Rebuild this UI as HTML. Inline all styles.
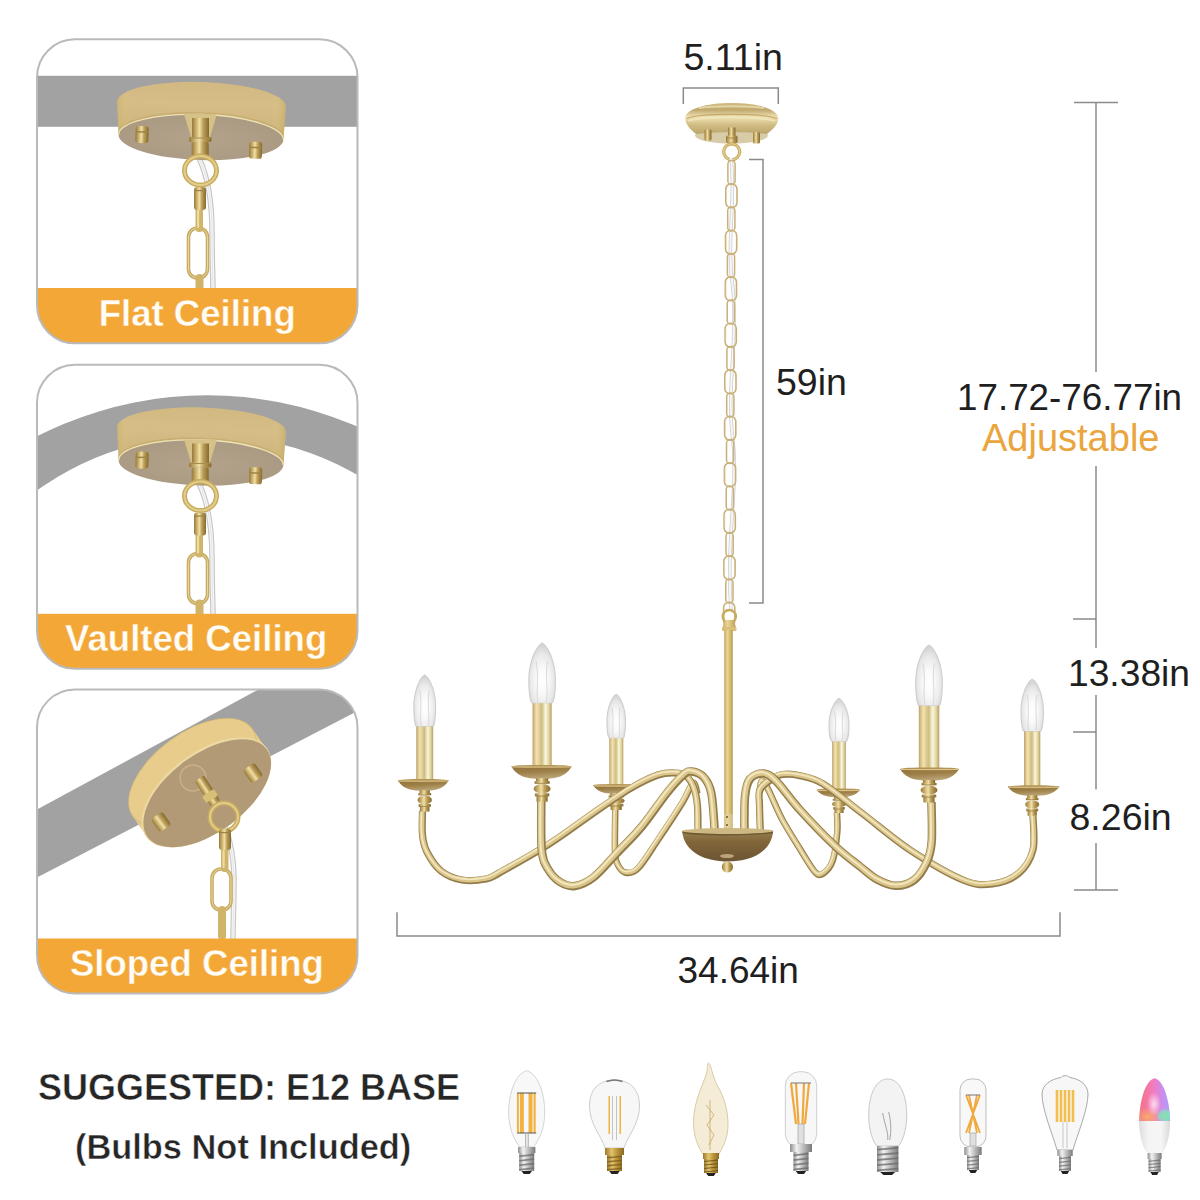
<!DOCTYPE html>
<html><head><meta charset="utf-8">
<style>
html,body{margin:0;padding:0;background:#fff;}
body{width:1200px;height:1200px;overflow:hidden;position:relative;}
svg{position:absolute;left:0;top:0;}
text{font-family:"Liberation Sans",sans-serif;}
</style></head>
<body>
<svg width="1200" height="1200" viewBox="0 0 1200 1200">
<defs>
  <clipPath id="p1"><rect x="37" y="39.3" width="320.5" height="304" rx="38"/></clipPath>
  <clipPath id="p2"><rect x="37" y="364.8" width="320.5" height="304" rx="38"/></clipPath>
  <clipPath id="p3"><rect x="37" y="689.5" width="320.5" height="304" rx="38"/></clipPath>
  <linearGradient id="gWall" x1="0" y1="0" x2="0" y2="1">
    <stop offset="0" stop-color="#d2b981"/><stop offset="0.4" stop-color="#d6bd88"/><stop offset="1" stop-color="#ccb37a"/>
  </linearGradient>
  <linearGradient id="gWallH" x1="0" y1="0" x2="1" y2="0">
    <stop offset="0" stop-color="#c9b06c" stop-opacity="0.6"/><stop offset="0.08" stop-color="#e0cb88" stop-opacity="0"/><stop offset="0.92" stop-color="#e0cb88" stop-opacity="0"/><stop offset="1" stop-color="#c2a862" stop-opacity="0.6"/>
  </linearGradient>
  <radialGradient id="gFace" cx="0.5" cy="0.55" r="0.6">
    <stop offset="0" stop-color="#b3a38b"/><stop offset="1" stop-color="#aa9982"/>
  </radialGradient>
  <linearGradient id="gBrass" x1="0" y1="0" x2="1" y2="0">
    <stop offset="0" stop-color="#96793a"/><stop offset="0.3" stop-color="#d6bd7c"/><stop offset="0.45" stop-color="#efe0a8"/><stop offset="0.65" stop-color="#bea05a"/><stop offset="1" stop-color="#846a30"/>
  </linearGradient>
  <linearGradient id="gSleeve" x1="0" y1="0" x2="1" y2="0">
    <stop offset="0" stop-color="#bca36a"/><stop offset="0.1" stop-color="#d9c08f"/><stop offset="0.22" stop-color="#f4e3ae"/><stop offset="0.48" stop-color="#cdbd7e"/><stop offset="0.68" stop-color="#faf5de"/><stop offset="0.85" stop-color="#e3d59e"/><stop offset="1" stop-color="#b89f66"/>
  </linearGradient>
  <linearGradient id="gCup" x1="0" y1="0" x2="0.3" y2="1">
    <stop offset="0" stop-color="#8f7038"/><stop offset="0.5" stop-color="#9d7f48"/><stop offset="1" stop-color="#b9a274"/>
  </linearGradient>
  <linearGradient id="gBowl" x1="0" y1="0" x2="0" y2="1">
    <stop offset="0" stop-color="#958050"/><stop offset="0.35" stop-color="#826639"/><stop offset="1" stop-color="#6c5534"/>
  </linearGradient>
  <radialGradient id="gBulb" cx="0.5" cy="0.62" r="0.58">
    <stop offset="0" stop-color="#ffffff"/><stop offset="0.35" stop-color="#fafafa"/><stop offset="0.75" stop-color="#e9e9e9"/><stop offset="1" stop-color="#d4d4d4"/>
  </radialGradient>
  <linearGradient id="gCan" x1="0" y1="0" x2="0" y2="1">
    <stop offset="0" stop-color="#d3bc82"/><stop offset="0.22" stop-color="#c0a86f"/><stop offset="0.45" stop-color="#f1e2b6"/><stop offset="0.7" stop-color="#d2bd84"/><stop offset="1" stop-color="#bba56c"/>
  </linearGradient>
  <linearGradient id="gRod" x1="0" y1="0" x2="1" y2="0">
    <stop offset="0" stop-color="#c2a659"/><stop offset="0.35" stop-color="#e8d596"/><stop offset="0.7" stop-color="#d4ba70"/><stop offset="1" stop-color="#b79b50"/>
  </linearGradient>
  <linearGradient id="gSilver" x1="0" y1="0" x2="1" y2="0">
    <stop offset="0" stop-color="#8d8d8d"/><stop offset="0.3" stop-color="#f2f2f2"/><stop offset="0.6" stop-color="#bdbdbd"/><stop offset="1" stop-color="#7a7a7a"/>
  </linearGradient>
  <linearGradient id="gGold2" x1="0" y1="0" x2="1" y2="0">
    <stop offset="0" stop-color="#9c7a2c"/><stop offset="0.35" stop-color="#e2c46e"/><stop offset="0.6" stop-color="#c19a40"/><stop offset="1" stop-color="#8a6a22"/>
  </linearGradient>
  <linearGradient id="gRGB" x1="0" y1="0" x2="1" y2="0">
    <stop offset="0" stop-color="#f2866a"/><stop offset="0.45" stop-color="#f47f9c"/><stop offset="0.75" stop-color="#c48fe8"/><stop offset="1" stop-color="#9fb6f0"/>
  </linearGradient>
</defs>
<rect width="1200" height="1200" fill="#fff"/>

<!-- PANEL BACKGROUNDS -->
<g clip-path="url(#p1)">
  <rect x="37" y="75.8" width="321" height="51" fill="#a3a2a3"/>
</g>
<g clip-path="url(#p2)">
  <circle cx="207.4" cy="769.3" r="374" fill="#a3a2a3"/>
  <circle cx="209.1" cy="731.5" r="296.3" fill="#fff"/>
</g>
<g clip-path="url(#p3)">
  <polygon points="0,829.6 300,667 420,678.5 0,896.8" fill="#a3a2a3"/>
</g>

<!-- PANEL CANOPY (flat) -->
<g id="pcan">
  <!-- cord -->
  <path d="M199,158 C207,175 212,198 212,232 C212,262 213,276 213,292" stroke="#c6c6c6" stroke-width="5.5" fill="none"/>
  <path d="M199,158 C207,175 212,198 212,232 C212,262 213,276 213,292" stroke="#f6f6f6" stroke-width="3.2" fill="none"/>
  <path d="M199,158 C207,175 212,198 212,232 C212,262 213,276 213,292" stroke="#d9d9d9" stroke-width="0.6" fill="none"/>
  <!-- chain face link -->
  <rect x="188.5" y="228" width="19" height="50" rx="9" fill="none" stroke="#c7ab62" stroke-width="3.6"/>
  <rect x="188.5" y="228" width="19" height="50" rx="9" fill="none" stroke="#e8d69c" stroke-width="1"/>
  <!-- clasp + edge link -->
  <rect x="195.5" y="205" width="7.5" height="27" rx="3.5" fill="#cfb46a"/>
  <rect x="197" y="209" width="2.2" height="19" rx="1" fill="#ecdca4"/>
  <rect x="194" y="187" width="12" height="23" rx="3" fill="url(#gBrass)"/>
  <rect x="194" y="190" width="12" height="1.2" fill="#9c8242"/>
  <rect x="195.5" y="274" width="8" height="20" rx="4" fill="#cfb46a"/>
  <g transform="rotate(1.8 201 121)">
  <!-- wall -->
  <path d="M116.7,104 A84.3,22 0 0 1 285.3,104 L284,137 A82.5,23 0 0 0 119,137 Z" fill="url(#gWall)"/>
  <path d="M116.7,104 A84.3,22 0 0 1 285.3,104 L284,137 A82.5,23 0 0 0 119,137 Z" fill="url(#gWallH)"/>
  <!-- face -->
  <ellipse cx="201.5" cy="137" rx="82.5" ry="23" fill="url(#gFace)"/>
  <path d="M119,136 A82.5,23 0 0 1 284,136" stroke="#c2a866" stroke-width="1.6" fill="none" opacity="0.7"/>
  <path d="M119,137.5 A82.5,23 0 0 1 284,137.5" stroke="#efe2b2" stroke-width="1.4" fill="none"/>
  <!-- screws -->
  <rect x="136" y="128" width="13" height="17" rx="3" fill="url(#gBrass)"/>
  <rect x="136" y="133" width="13" height="1.5" fill="#9e8444"/>
  <rect x="250" y="140" width="13" height="17" rx="3" fill="url(#gBrass)"/>
  <rect x="250" y="145" width="13" height="1.5" fill="#9e8444"/>
  </g>
  <!-- stem -->
  <path d="M184,114 L217,114 L210,137 L191,137 Z" fill="#d6c188"/>
  <rect x="192" y="118" width="17" height="20" fill="url(#gBrass)"/>
  <rect x="189" y="137" width="22.5" height="5" rx="1.5" fill="url(#gBrass)"/><rect x="189" y="137.5" width="22.5" height="1" fill="#a88c48"/>
  <rect x="191.7" y="142" width="17" height="16" rx="2" fill="url(#gBrass)"/>
  <!-- ring -->
  <ellipse cx="200.5" cy="170.5" rx="16" ry="14.5" fill="none" stroke="#c8ab5f" stroke-width="5"/>
  <ellipse cx="200.5" cy="170.5" rx="16" ry="14.5" fill="none" stroke="#e2cd8a" stroke-width="2"/>
</g>
<use href="#pcan" transform="translate(0,325.5)"/>

<!-- PANEL 3 sloped canopy -->
<g id="pcan3">
<path d="M217,808 C226,825 234,850 234,880 C234,905 233,920 233,940" stroke="#c6c6c6" stroke-width="5.5" fill="none"/>
<path d="M217,808 C226,825 234,850 234,880 C234,905 233,920 233,940" stroke="#f6f6f6" stroke-width="3.2" fill="none"/>
<path d="M217,808 C226,825 234,850 234,880 C234,905 233,920 233,940" stroke="#d9d9d9" stroke-width="0.6" fill="none"/>
<rect x="212" y="869" width="19" height="41" rx="9" fill="none" stroke="#c7ab62" stroke-width="3.6"/>
<rect x="212" y="869" width="19" height="41" rx="9" fill="none" stroke="#e8d69c" stroke-width="1"/>
<rect x="218" y="906" width="8" height="34" rx="4" fill="#cfb46a"/>
<ellipse cx="192.40" cy="772.40" rx="74" ry="39" transform="rotate(-36.5 192.40 772.40)" fill="#e8cc8c"/>
<ellipse cx="193.40" cy="773.83" rx="74" ry="39" transform="rotate(-36.5 193.40 773.83)" fill="#e8cc8c"/>
<ellipse cx="194.40" cy="775.26" rx="74" ry="39" transform="rotate(-36.5 194.40 775.26)" fill="#e8cc8c"/>
<ellipse cx="195.40" cy="776.69" rx="74" ry="39" transform="rotate(-36.5 195.40 776.69)" fill="#e8cc8c"/>
<ellipse cx="196.40" cy="778.11" rx="74" ry="39" transform="rotate(-36.5 196.40 778.11)" fill="#e8cc8c"/>
<ellipse cx="197.40" cy="779.54" rx="74" ry="39" transform="rotate(-36.5 197.40 779.54)" fill="#e8cc8c"/>
<ellipse cx="198.40" cy="780.97" rx="74" ry="39" transform="rotate(-36.5 198.40 780.97)" fill="#e8cc8c"/>
<ellipse cx="199.40" cy="782.40" rx="74" ry="39" transform="rotate(-36.5 199.40 782.40)" fill="#e8cc8c"/>
<ellipse cx="200.40" cy="783.83" rx="74" ry="39" transform="rotate(-36.5 200.40 783.83)" fill="#e8cc8c"/>
<ellipse cx="201.40" cy="785.26" rx="74" ry="39" transform="rotate(-36.5 201.40 785.26)" fill="#e8cc8c"/>
<ellipse cx="202.40" cy="786.69" rx="74" ry="39" transform="rotate(-36.5 202.40 786.69)" fill="#e8cc8c"/>
<ellipse cx="203.40" cy="788.11" rx="74" ry="39" transform="rotate(-36.5 203.40 788.11)" fill="#e8cc8c"/>
<ellipse cx="204.40" cy="789.54" rx="74" ry="39" transform="rotate(-36.5 204.40 789.54)" fill="#e8cc8c"/>
<ellipse cx="205.40" cy="790.97" rx="74" ry="39" transform="rotate(-36.5 205.40 790.97)" fill="#e8cc8c"/>
<ellipse cx="206.40" cy="792.40" rx="74" ry="39" transform="rotate(-36.5 206.40 792.40)" fill="#e8cc8c"/>
<ellipse cx="192.40" cy="772.40" rx="74" ry="39" transform="rotate(-36.5 192.40 772.40)" fill="none" stroke="#cfb46c" stroke-width="1" opacity="0.6"/>
<ellipse cx="206.4" cy="792.4" rx="75" ry="40" transform="rotate(-36.5 206.4 792.4)" fill="#eddaa3"/>
<ellipse cx="207.20000000000002" cy="793.1999999999999" rx="74" ry="39" transform="rotate(-36.5 207.20000000000002 793.1999999999999)" fill="#b29a77"/>
<circle cx="193" cy="778" r="13" fill="#b49c79" stroke="#c9b185" stroke-width="1.5"/>
<rect x="154" y="814" width="14" height="16" rx="3" fill="url(#gBrass)" transform="rotate(-36 161 822)"/>
<rect x="246" y="765" width="14" height="16" rx="3" fill="url(#gBrass)" transform="rotate(-36 253 773)"/>
<rect x="202" y="776" width="11" height="30" rx="2" fill="url(#gBrass)" transform="rotate(-33 207.5 791)"/>
<rect x="203" y="792" width="14" height="8" rx="2" fill="#d8bf76" transform="rotate(-33 210 796)"/>
<circle cx="224" cy="817" r="14" fill="none" stroke="#c8ab5f" stroke-width="5"/>
<circle cx="224" cy="817" r="14" fill="none" stroke="#e2cd8a" stroke-width="2"/>
<rect x="221" y="846" width="7.5" height="26" rx="3.5" fill="#cfb46a"/>
<rect x="222.5" y="850" width="2.2" height="18" rx="1" fill="#ecdca4"/>
<rect x="219" y="829" width="12" height="21" rx="3" fill="url(#gBrass)"/>
<rect x="219" y="832" width="12" height="1.2" fill="#9c8242"/>
</g>

<!-- ORANGE BANDS -->
<g clip-path="url(#p1)"><rect x="37" y="288" width="321" height="56" fill="#f3a736"/></g>
<g clip-path="url(#p2)"><rect x="37" y="613.8" width="321" height="56" fill="#f3a736"/></g>
<g clip-path="url(#p3)"><rect x="37" y="938.5" width="321" height="56" fill="#f3a736"/></g>
<rect x="37" y="39.3" width="320.5" height="304" rx="38" fill="none" stroke="#bababa" stroke-width="2"/>
<rect x="37" y="364.8" width="320.5" height="304" rx="38" fill="none" stroke="#bababa" stroke-width="2"/>
<rect x="37" y="689.5" width="320.5" height="304" rx="38" fill="none" stroke="#bababa" stroke-width="2"/>
<g font-weight="bold" fill="#fffdf6" font-size="36.6" text-anchor="middle" stroke="#f3a736" stroke-width="0.4">
  <text x="197.2" y="325.8">Flat Ceiling</text>
  <text x="196.2" y="651.3">Vaulted Ceiling</text>
  <text x="196.9" y="976.3">Sloped Ceiling</text>
</g>

<g id="chcan">
<ellipse cx="731.5" cy="135.5" rx="36.5" ry="8" fill="#d8cca8"/>
<path d="M685.3,118 C685.5,109 706,103 731.5,103 C757,103 778,109 778.3,118 C778.3,125 772,130 767,134 C750,131.5 713,131.5 696,134 C691,130 685.3,125 685.3,118 Z" fill="url(#gCan)"/>
<path d="M686.5,118.5 C700,113 763,113 777,118.5" stroke="#bea35c" stroke-width="1.3" fill="none" opacity="0.8"/>
<path d="M688,121 C705,116 758,116 775,121" stroke="#f1e6bd" stroke-width="1.8" fill="none" opacity="0.9"/>
<path d="M699,108 C712,105.5 751,105.5 764,108" stroke="#f0e4b6" stroke-width="2" fill="none" opacity="0.7"/>
<rect x="704.5" y="129.5" width="7" height="11" rx="1.5" fill="url(#gBrass)"/>
<rect x="753" y="132" width="7" height="11.5" rx="1.5" fill="url(#gBrass)"/>
<rect x="728" y="127.5" width="7.5" height="9" fill="url(#gBrass)"/>
<rect x="726" y="135.5" width="11.5" height="7.5" rx="1.5" fill="url(#gBrass)"/>
<path d="M726,138 H737.5" stroke="#9d8241" stroke-width="0.8"/>
<circle cx="731.7" cy="151.8" r="8" fill="none" stroke="#c6a95e" stroke-width="3.2"/>
<circle cx="731.7" cy="151.8" r="8" fill="none" stroke="#e6d394" stroke-width="1.1"/>
</g>
<g>
<path d="M731,158 C736,200 726,240 733,290 C738,340 726,390 733,440 C738,490 726,540 731,610" stroke="#cfcfcf" stroke-width="3.6" fill="none"/>
<path d="M731,158 C736,200 726,240 733,290 C738,340 726,390 733,440 C738,490 726,540 731,610" stroke="#f6f6f6" stroke-width="2" fill="none"/>
<rect x="727.9" y="160.5" width="7.2" height="24" rx="3.6" fill="none" stroke="#c9b078" stroke-width="1.5"/>
<rect x="725.8" y="183.8" width="11.2" height="24" rx="5.4" fill="none" stroke="#c9b078" stroke-width="1.6"/>
<path d="M726.6,189.8 V201.8" stroke="#e9dcb0" stroke-width="0.7"/>
<rect x="727.7" y="207.0" width="7.2" height="24" rx="3.6" fill="none" stroke="#c9b078" stroke-width="1.5"/>
<rect x="725.5" y="230.2" width="11.2" height="24" rx="5.4" fill="none" stroke="#c9b078" stroke-width="1.6"/>
<path d="M726.3,236.2 V248.2" stroke="#e9dcb0" stroke-width="0.7"/>
<rect x="727.4" y="253.5" width="7.2" height="24" rx="3.6" fill="none" stroke="#c9b078" stroke-width="1.5"/>
<rect x="725.3" y="276.8" width="11.2" height="24" rx="5.4" fill="none" stroke="#c9b078" stroke-width="1.6"/>
<path d="M726.1,282.8 V294.8" stroke="#e9dcb0" stroke-width="0.7"/>
<rect x="727.2" y="300.0" width="7.2" height="24" rx="3.6" fill="none" stroke="#c9b078" stroke-width="1.5"/>
<rect x="725.1" y="323.2" width="11.2" height="24" rx="5.4" fill="none" stroke="#c9b078" stroke-width="1.6"/>
<path d="M725.9,329.2 V341.2" stroke="#e9dcb0" stroke-width="0.7"/>
<rect x="726.9" y="346.5" width="7.2" height="24" rx="3.6" fill="none" stroke="#c9b078" stroke-width="1.5"/>
<rect x="724.8" y="369.8" width="11.2" height="24" rx="5.4" fill="none" stroke="#c9b078" stroke-width="1.6"/>
<path d="M725.6,375.8 V387.8" stroke="#e9dcb0" stroke-width="0.7"/>
<rect x="726.7" y="393.0" width="7.2" height="24" rx="3.6" fill="none" stroke="#c9b078" stroke-width="1.5"/>
<rect x="724.6" y="416.2" width="11.2" height="24" rx="5.4" fill="none" stroke="#c9b078" stroke-width="1.6"/>
<path d="M725.4,422.2 V434.2" stroke="#e9dcb0" stroke-width="0.7"/>
<rect x="726.5" y="439.5" width="7.2" height="24" rx="3.6" fill="none" stroke="#c9b078" stroke-width="1.5"/>
<rect x="724.4" y="462.8" width="11.2" height="24" rx="5.4" fill="none" stroke="#c9b078" stroke-width="1.6"/>
<path d="M725.2,468.8 V480.8" stroke="#e9dcb0" stroke-width="0.7"/>
<rect x="726.2" y="486.0" width="7.2" height="24" rx="3.6" fill="none" stroke="#c9b078" stroke-width="1.5"/>
<rect x="724.1" y="509.2" width="11.2" height="24" rx="5.4" fill="none" stroke="#c9b078" stroke-width="1.6"/>
<path d="M724.9,515.2 V527.2" stroke="#e9dcb0" stroke-width="0.7"/>
<rect x="726.0" y="532.5" width="7.2" height="24" rx="3.6" fill="none" stroke="#c9b078" stroke-width="1.5"/>
<rect x="723.9" y="555.8" width="11.2" height="24" rx="5.4" fill="none" stroke="#c9b078" stroke-width="1.6"/>
<path d="M724.7,561.8 V573.8" stroke="#e9dcb0" stroke-width="0.7"/>
<rect x="725.8" y="579.0" width="7.2" height="24" rx="3.6" fill="none" stroke="#c9b078" stroke-width="1.5"/>
<rect x="723.6" y="602.2" width="11.2" height="24" rx="5.4" fill="none" stroke="#c9b078" stroke-width="1.6"/>
<path d="M724.4,608.2 V620.2" stroke="#e9dcb0" stroke-width="0.7"/>
</g>
<circle cx="729.3" cy="616.5" r="6.5" fill="none" stroke="#c8ac60" stroke-width="2.6"/>
<path d="M724.5,620 L734,620 L736,628 L722.5,628 Z" fill="url(#gRod)"/>
<rect x="722" y="627" width="14.5" height="4" rx="1" fill="#d9c07a"/>
<rect x="724.2" y="630" width="8.6" height="202" fill="url(#gRod)"/>
<rect x="723.8" y="814" width="9.2" height="14" fill="#e2d6ae" opacity="0.5"/>
<circle cx="727" cy="817" r="0.9" fill="#5a4a20"/><circle cx="727" cy="825" r="0.9" fill="#5a4a20"/>
<path d="M615.3,810.0 C615.2,816.7 614.7,841.2 615.0,850.0 C615.3,858.8 615.3,859.2 617.0,863.0 C618.7,866.8 621.5,871.6 625.0,872.5 C628.5,873.4 632.5,873.9 638.0,868.5 C643.5,863.1 650.5,851.1 658.0,840.0 C665.5,828.9 677.2,811.2 683.0,801.7 C688.8,792.2 690.6,784.3 693.0,783.0 C695.4,781.7 696.8,792.2 697.5,794.0" fill="none" stroke="#937c4b" stroke-width="6.5"/>
<path d="M615.3,810.0 C615.2,816.7 614.7,841.2 615.0,850.0 C615.3,858.8 615.3,859.2 617.0,863.0 C618.7,866.8 621.5,871.6 625.0,872.5 C628.5,873.4 632.5,873.9 638.0,868.5 C643.5,863.1 650.5,851.1 658.0,840.0 C665.5,828.9 677.2,811.2 683.0,801.7 C688.8,792.2 690.6,784.3 693.0,783.0 C695.4,781.7 696.8,792.2 697.5,794.0" fill="none" stroke="#dac58a" stroke-width="4.55" transform="translate(-0.45,-0.65)"/>
<path d="M615.3,810.0 C615.2,816.7 614.7,841.2 615.0,850.0 C615.3,858.8 615.3,859.2 617.0,863.0 C618.7,866.8 621.5,871.6 625.0,872.5 C628.5,873.4 632.5,873.9 638.0,868.5 C643.5,863.1 650.5,851.1 658.0,840.0 C665.5,828.9 677.2,811.2 683.0,801.7 C688.8,792.2 690.6,784.3 693.0,783.0 C695.4,781.7 696.8,792.2 697.5,794.0" fill="none" stroke="#f6ecc8" stroke-width="1.56" transform="translate(-1.0,-1.3)" opacity="0.85"/>
<path d="M837.0,813.0 C837.0,816.2 838.0,824.2 837.3,832.0 C836.6,839.8 835.3,853.1 833.0,860.0 C830.7,866.9 826.3,871.5 823.3,873.5 C820.3,875.5 818.9,876.1 815.0,872.0 C811.1,867.9 805.4,857.7 800.0,849.0 C794.6,840.3 787.8,829.8 782.5,820.0 C777.2,810.2 771.9,796.5 768.5,790.0 C765.1,783.5 763.5,780.7 762.0,781.0 C760.5,781.3 759.9,790.2 759.5,792.0" fill="none" stroke="#937c4b" stroke-width="6.5"/>
<path d="M837.0,813.0 C837.0,816.2 838.0,824.2 837.3,832.0 C836.6,839.8 835.3,853.1 833.0,860.0 C830.7,866.9 826.3,871.5 823.3,873.5 C820.3,875.5 818.9,876.1 815.0,872.0 C811.1,867.9 805.4,857.7 800.0,849.0 C794.6,840.3 787.8,829.8 782.5,820.0 C777.2,810.2 771.9,796.5 768.5,790.0 C765.1,783.5 763.5,780.7 762.0,781.0 C760.5,781.3 759.9,790.2 759.5,792.0" fill="none" stroke="#dac58a" stroke-width="4.55" transform="translate(-0.45,-0.65)"/>
<path d="M837.0,813.0 C837.0,816.2 838.0,824.2 837.3,832.0 C836.6,839.8 835.3,853.1 833.0,860.0 C830.7,866.9 826.3,871.5 823.3,873.5 C820.3,875.5 818.9,876.1 815.0,872.0 C811.1,867.9 805.4,857.7 800.0,849.0 C794.6,840.3 787.8,829.8 782.5,820.0 C777.2,810.2 771.9,796.5 768.5,790.0 C765.1,783.5 763.5,780.7 762.0,781.0 C760.5,781.3 759.9,790.2 759.5,792.0" fill="none" stroke="#f6ecc8" stroke-width="1.56" transform="translate(-1.0,-1.3)" opacity="0.85"/>
<path d="M616.2,694.2 C619.0,695.1 625.5,705.7 625.5,721.5 C625.5,732.1 624.1,738.3 623.2,738.3 L609.2,738.3 C608.3,738.3 606.9,732.1 606.9,721.5 C606.9,705.7 613.4,695.1 616.2,694.2 Z" fill="url(#gBulb)" stroke="#cbcbcb" stroke-width="1"/>
<path d="M612.0,707.4 C614.3,720.7 611.6,729.5 613.4,737.3 M619.9,707.4 C618.1,720.7 620.9,729.5 619.0,737.3" stroke="#d2d2d2" stroke-width="0.8" fill="none"/>
<rect x="609.2" y="738.3" width="14.1" height="47.2" fill="url(#gSleeve)"/>
<path d="M593.0,785.5 C598.5,793.3 606.8,793.8 616.0,793.8 C625.2,793.8 633.5,793.3 639.0,785.5 Z" fill="url(#gCup)"/>
<ellipse cx="616.0" cy="785.5" rx="23.0" ry="1.6" fill="#b39452"/>
<path d="M594.0,786.0 L638.0,786.0" stroke="#d9c48e" stroke-width="1"/>
<rect x="610.1" y="793.3" width="12.2" height="2.3" fill="url(#gBrass)"/>
<rect x="608.6" y="795.3" width="15.3" height="1.7" rx="1" fill="url(#gBrass)"/>
<ellipse cx="616.2" cy="800.8" rx="8.5" ry="3.3" fill="url(#gBrass)"/>
<rect x="608.9" y="804.0" width="14.6" height="2.0" rx="1" fill="url(#gBrass)"/>
<rect x="610.6" y="806.0" width="11.2" height="4.0" fill="url(#gBrass)"/>
<path d="M608.6,797.0 H623.9 M608.9,806.0 H623.5" stroke="#8c7034" stroke-width="0.7"/>
<path d="M839.0,698.3 C842.0,699.2 849.0,709.6 849.0,725.2 C849.0,735.6 847.5,741.7 845.9,741.7 L832.1,741.7 C830.5,741.7 829.0,735.6 829.0,725.2 C829.0,709.6 836.0,699.2 839.0,698.3 Z" fill="url(#gBulb)" stroke="#cbcbcb" stroke-width="1"/>
<path d="M834.5,711.3 C837.0,724.3 834.0,733.0 836.0,740.7 M843.0,711.3 C841.0,724.3 844.0,733.0 842.0,740.7" stroke="#d2d2d2" stroke-width="0.8" fill="none"/>
<rect x="832.1" y="741.7" width="13.8" height="48.3" fill="url(#gSleeve)"/>
<path d="M816.7,790.0 C821.9,796.7 829.7,797.2 838.4,797.2 C847.0,797.2 854.8,796.7 860.0,790.0 Z" fill="url(#gCup)"/>
<ellipse cx="838.4" cy="790.0" rx="21.6" ry="1.6" fill="#b39452"/>
<path d="M817.7,790.5 L859.0,790.5" stroke="#d9c48e" stroke-width="1"/>
<rect x="834.0" y="796.7" width="10.1" height="2.3" fill="url(#gBrass)"/>
<rect x="832.7" y="798.7" width="12.6" height="1.6" rx="1" fill="url(#gBrass)"/>
<ellipse cx="839.0" cy="804.0" rx="7.0" ry="3.3" fill="url(#gBrass)"/>
<rect x="833.0" y="807.1" width="12.0" height="2.0" rx="1" fill="url(#gBrass)"/>
<rect x="834.4" y="809.1" width="9.2" height="3.9" fill="url(#gBrass)"/>
<path d="M832.7,800.3 H845.3 M833.0,809.1 H845.0" stroke="#8c7034" stroke-width="0.7"/>
<path d="M422.5,811.0 C422.5,815.0 421.8,828.2 422.5,835.0 C423.2,841.8 423.9,846.0 427.0,852.0 C430.1,858.0 435.2,866.3 441.0,871.0 C446.8,875.7 454.5,878.7 462.0,880.0 C469.5,881.3 479.7,880.2 486.0,879.0 C492.3,877.8 489.3,878.4 500.0,872.5 C510.7,866.6 533.3,854.2 550.0,843.5 C566.7,832.8 586.2,817.9 600.0,808.5 C613.8,799.1 623.3,792.6 633.0,787.0 C642.7,781.4 651.0,777.3 658.0,775.0 C665.0,772.7 670.3,772.8 675.0,773.0 C679.7,773.2 682.8,773.5 686.0,776.0 C689.2,778.5 692.1,783.0 694.0,788.0 C695.9,793.0 696.8,798.3 697.5,806.0 C698.2,813.7 697.9,829.3 698.0,834.0" fill="none" stroke="#937c4b" stroke-width="7.2"/>
<path d="M422.5,811.0 C422.5,815.0 421.8,828.2 422.5,835.0 C423.2,841.8 423.9,846.0 427.0,852.0 C430.1,858.0 435.2,866.3 441.0,871.0 C446.8,875.7 454.5,878.7 462.0,880.0 C469.5,881.3 479.7,880.2 486.0,879.0 C492.3,877.8 489.3,878.4 500.0,872.5 C510.7,866.6 533.3,854.2 550.0,843.5 C566.7,832.8 586.2,817.9 600.0,808.5 C613.8,799.1 623.3,792.6 633.0,787.0 C642.7,781.4 651.0,777.3 658.0,775.0 C665.0,772.7 670.3,772.8 675.0,773.0 C679.7,773.2 682.8,773.5 686.0,776.0 C689.2,778.5 692.1,783.0 694.0,788.0 C695.9,793.0 696.8,798.3 697.5,806.0 C698.2,813.7 697.9,829.3 698.0,834.0" fill="none" stroke="#dac58a" stroke-width="5.04" transform="translate(-0.45,-0.65)"/>
<path d="M422.5,811.0 C422.5,815.0 421.8,828.2 422.5,835.0 C423.2,841.8 423.9,846.0 427.0,852.0 C430.1,858.0 435.2,866.3 441.0,871.0 C446.8,875.7 454.5,878.7 462.0,880.0 C469.5,881.3 479.7,880.2 486.0,879.0 C492.3,877.8 489.3,878.4 500.0,872.5 C510.7,866.6 533.3,854.2 550.0,843.5 C566.7,832.8 586.2,817.9 600.0,808.5 C613.8,799.1 623.3,792.6 633.0,787.0 C642.7,781.4 651.0,777.3 658.0,775.0 C665.0,772.7 670.3,772.8 675.0,773.0 C679.7,773.2 682.8,773.5 686.0,776.0 C689.2,778.5 692.1,783.0 694.0,788.0 C695.9,793.0 696.8,798.3 697.5,806.0 C698.2,813.7 697.9,829.3 698.0,834.0" fill="none" stroke="#f6ecc8" stroke-width="1.73" transform="translate(-1.0,-1.3)" opacity="0.85"/>
<path d="M1033.0,816.0 C1033.0,821.7 1035.4,840.4 1033.0,850.0 C1030.6,859.6 1025.4,867.8 1018.6,873.5 C1011.8,879.2 1001.7,882.9 992.4,884.0 C983.1,885.1 976.7,885.7 963.0,880.0 C949.3,874.3 926.7,861.0 910.0,850.0 C893.3,839.0 877.5,825.0 863.0,814.0 C848.5,803.0 833.8,790.4 823.3,784.0 C812.8,777.6 806.8,777.3 800.0,775.7 C793.2,774.1 787.4,773.8 782.5,774.5 C777.6,775.2 774.5,777.2 770.8,779.8 C767.0,782.4 761.9,785.8 760.0,790.0 C758.1,794.2 759.4,797.7 759.5,805.0 C759.6,812.3 760.3,829.2 760.5,834.0" fill="none" stroke="#937c4b" stroke-width="7.2"/>
<path d="M1033.0,816.0 C1033.0,821.7 1035.4,840.4 1033.0,850.0 C1030.6,859.6 1025.4,867.8 1018.6,873.5 C1011.8,879.2 1001.7,882.9 992.4,884.0 C983.1,885.1 976.7,885.7 963.0,880.0 C949.3,874.3 926.7,861.0 910.0,850.0 C893.3,839.0 877.5,825.0 863.0,814.0 C848.5,803.0 833.8,790.4 823.3,784.0 C812.8,777.6 806.8,777.3 800.0,775.7 C793.2,774.1 787.4,773.8 782.5,774.5 C777.6,775.2 774.5,777.2 770.8,779.8 C767.0,782.4 761.9,785.8 760.0,790.0 C758.1,794.2 759.4,797.7 759.5,805.0 C759.6,812.3 760.3,829.2 760.5,834.0" fill="none" stroke="#dac58a" stroke-width="5.04" transform="translate(-0.45,-0.65)"/>
<path d="M1033.0,816.0 C1033.0,821.7 1035.4,840.4 1033.0,850.0 C1030.6,859.6 1025.4,867.8 1018.6,873.5 C1011.8,879.2 1001.7,882.9 992.4,884.0 C983.1,885.1 976.7,885.7 963.0,880.0 C949.3,874.3 926.7,861.0 910.0,850.0 C893.3,839.0 877.5,825.0 863.0,814.0 C848.5,803.0 833.8,790.4 823.3,784.0 C812.8,777.6 806.8,777.3 800.0,775.7 C793.2,774.1 787.4,773.8 782.5,774.5 C777.6,775.2 774.5,777.2 770.8,779.8 C767.0,782.4 761.9,785.8 760.0,790.0 C758.1,794.2 759.4,797.7 759.5,805.0 C759.6,812.3 760.3,829.2 760.5,834.0" fill="none" stroke="#f6ecc8" stroke-width="1.73" transform="translate(-1.0,-1.3)" opacity="0.85"/>
<path d="M541.3,801.0 C541.4,809.2 540.7,838.7 541.8,850.0 C542.9,861.3 545.0,863.7 548.0,869.0 C551.0,874.3 555.5,879.2 560.0,882.0 C564.5,884.8 569.3,886.8 575.0,886.0 C580.7,885.2 587.0,882.5 594.0,877.0 C601.0,871.5 608.8,861.7 616.7,853.3 C624.7,844.9 633.4,836.7 641.7,826.7 C650.0,816.7 659.8,801.9 666.7,793.3 C673.6,784.7 679.1,778.6 683.3,775.0 C687.5,771.4 688.2,771.1 691.7,771.5 C695.2,771.9 700.7,773.8 704.0,777.5 C707.3,781.2 709.7,784.6 711.5,794.0 C713.3,803.4 714.4,827.3 715.0,834.0" fill="none" stroke="#937c4b" stroke-width="8.5"/>
<path d="M541.3,801.0 C541.4,809.2 540.7,838.7 541.8,850.0 C542.9,861.3 545.0,863.7 548.0,869.0 C551.0,874.3 555.5,879.2 560.0,882.0 C564.5,884.8 569.3,886.8 575.0,886.0 C580.7,885.2 587.0,882.5 594.0,877.0 C601.0,871.5 608.8,861.7 616.7,853.3 C624.7,844.9 633.4,836.7 641.7,826.7 C650.0,816.7 659.8,801.9 666.7,793.3 C673.6,784.7 679.1,778.6 683.3,775.0 C687.5,771.4 688.2,771.1 691.7,771.5 C695.2,771.9 700.7,773.8 704.0,777.5 C707.3,781.2 709.7,784.6 711.5,794.0 C713.3,803.4 714.4,827.3 715.0,834.0" fill="none" stroke="#dac58a" stroke-width="5.95" transform="translate(-0.45,-0.65)"/>
<path d="M541.3,801.0 C541.4,809.2 540.7,838.7 541.8,850.0 C542.9,861.3 545.0,863.7 548.0,869.0 C551.0,874.3 555.5,879.2 560.0,882.0 C564.5,884.8 569.3,886.8 575.0,886.0 C580.7,885.2 587.0,882.5 594.0,877.0 C601.0,871.5 608.8,861.7 616.7,853.3 C624.7,844.9 633.4,836.7 641.7,826.7 C650.0,816.7 659.8,801.9 666.7,793.3 C673.6,784.7 679.1,778.6 683.3,775.0 C687.5,771.4 688.2,771.1 691.7,771.5 C695.2,771.9 700.7,773.8 704.0,777.5 C707.3,781.2 709.7,784.6 711.5,794.0 C713.3,803.4 714.4,827.3 715.0,834.0" fill="none" stroke="#f6ecc8" stroke-width="2.04" transform="translate(-1.0,-1.3)" opacity="0.85"/>
<path d="M931.5,802.0 C931.5,808.7 932.5,831.9 931.7,842.0 C930.9,852.1 929.6,856.2 926.7,862.5 C923.8,868.8 919.4,876.1 914.2,880.0 C909.1,883.9 902.0,885.9 895.8,885.8 C889.5,885.7 882.7,882.4 876.7,879.2 C870.7,876.0 867.0,872.0 860.0,866.5 C853.0,861.0 845.0,855.4 835.0,846.0 C825.0,836.6 809.7,820.7 800.0,810.0 C790.3,799.3 783.0,788.1 777.0,782.0 C771.0,775.9 768.3,774.0 763.8,773.5 C759.3,773.0 753.1,775.1 750.0,779.0 C746.9,782.9 745.9,787.8 745.0,797.0 C744.1,806.2 744.6,827.8 744.5,834.0" fill="none" stroke="#937c4b" stroke-width="8.5"/>
<path d="M931.5,802.0 C931.5,808.7 932.5,831.9 931.7,842.0 C930.9,852.1 929.6,856.2 926.7,862.5 C923.8,868.8 919.4,876.1 914.2,880.0 C909.1,883.9 902.0,885.9 895.8,885.8 C889.5,885.7 882.7,882.4 876.7,879.2 C870.7,876.0 867.0,872.0 860.0,866.5 C853.0,861.0 845.0,855.4 835.0,846.0 C825.0,836.6 809.7,820.7 800.0,810.0 C790.3,799.3 783.0,788.1 777.0,782.0 C771.0,775.9 768.3,774.0 763.8,773.5 C759.3,773.0 753.1,775.1 750.0,779.0 C746.9,782.9 745.9,787.8 745.0,797.0 C744.1,806.2 744.6,827.8 744.5,834.0" fill="none" stroke="#dac58a" stroke-width="5.95" transform="translate(-0.45,-0.65)"/>
<path d="M931.5,802.0 C931.5,808.7 932.5,831.9 931.7,842.0 C930.9,852.1 929.6,856.2 926.7,862.5 C923.8,868.8 919.4,876.1 914.2,880.0 C909.1,883.9 902.0,885.9 895.8,885.8 C889.5,885.7 882.7,882.4 876.7,879.2 C870.7,876.0 867.0,872.0 860.0,866.5 C853.0,861.0 845.0,855.4 835.0,846.0 C825.0,836.6 809.7,820.7 800.0,810.0 C790.3,799.3 783.0,788.1 777.0,782.0 C771.0,775.9 768.3,774.0 763.8,773.5 C759.3,773.0 753.1,775.1 750.0,779.0 C746.9,782.9 745.9,787.8 745.0,797.0 C744.1,806.2 744.6,827.8 744.5,834.0" fill="none" stroke="#f6ecc8" stroke-width="2.04" transform="translate(-1.0,-1.3)" opacity="0.85"/>
<path d="M424.7,674.9 C428.0,675.9 435.6,688.3 435.6,707.0 C435.6,719.4 434.0,726.6 433.2,726.6 L416.2,726.6 C415.4,726.6 413.8,719.4 413.8,707.0 C413.8,688.3 421.4,675.9 424.7,674.9 Z" fill="url(#gBulb)" stroke="#cbcbcb" stroke-width="1"/>
<path d="M419.8,690.4 C422.5,705.9 419.2,716.3 421.4,725.6 M429.1,690.4 C426.9,705.9 430.2,716.3 428.0,725.6" stroke="#d2d2d2" stroke-width="0.8" fill="none"/>
<rect x="416.2" y="726.6" width="17.0" height="54.0" fill="url(#gSleeve)"/>
<path d="M397.8,780.6 C403.9,790.3 413.1,790.8 423.3,790.8 C433.5,790.8 442.7,790.3 448.8,780.6 Z" fill="url(#gCup)"/>
<ellipse cx="423.3" cy="780.6" rx="25.5" ry="1.6" fill="#b39452"/>
<path d="M398.8,781.1 L447.8,781.1" stroke="#d9c48e" stroke-width="1"/>
<rect x="419.5" y="790.3" width="10.4" height="3.0" fill="url(#gBrass)"/>
<rect x="418.2" y="792.9" width="13.1" height="2.1" rx="1" fill="url(#gBrass)"/>
<ellipse cx="424.7" cy="799.9" rx="7.2" ry="4.3" fill="url(#gBrass)"/>
<rect x="418.5" y="803.9" width="12.5" height="2.6" rx="1" fill="url(#gBrass)"/>
<rect x="419.9" y="806.5" width="9.6" height="5.1" fill="url(#gBrass)"/>
<path d="M418.2,795.0 H431.2 M418.5,806.5 H430.9" stroke="#8c7034" stroke-width="0.7"/>
<path d="M542.1,643.0 C546.1,644.2 555.4,658.7 555.4,680.4 C555.4,694.9 553.4,703.3 551.7,703.3 L532.5,703.3 C530.8,703.3 528.8,694.9 528.8,680.4 C528.8,658.7 538.1,644.2 542.1,643.0 Z" fill="url(#gBulb)" stroke="#cbcbcb" stroke-width="1"/>
<path d="M536.1,661.1 C539.4,679.2 535.5,691.2 538.1,702.3 M547.4,661.1 C544.8,679.2 548.8,691.2 546.1,702.3" stroke="#d2d2d2" stroke-width="0.8" fill="none"/>
<rect x="532.5" y="703.3" width="19.2" height="63.2" fill="url(#gSleeve)"/>
<path d="M511.3,766.5 C518.5,778.3 529.4,778.8 541.5,778.8 C553.6,778.8 564.5,778.3 571.7,766.5 Z" fill="url(#gCup)"/>
<ellipse cx="541.5" cy="766.5" rx="30.2" ry="1.6" fill="#b39452"/>
<path d="M512.3,767.0 L570.7,767.0" stroke="#d9c48e" stroke-width="1"/>
<rect x="536.0" y="778.3" width="12.2" height="3.3" fill="url(#gBrass)"/>
<rect x="534.5" y="781.1" width="15.3" height="2.3" rx="1" fill="url(#gBrass)"/>
<ellipse cx="542.1" cy="788.8" rx="8.5" ry="4.7" fill="url(#gBrass)"/>
<rect x="534.8" y="793.3" width="14.6" height="2.8" rx="1" fill="url(#gBrass)"/>
<rect x="536.5" y="796.1" width="11.2" height="5.6" fill="url(#gBrass)"/>
<path d="M534.5,783.4 H549.8 M534.8,796.1 H549.4" stroke="#8c7034" stroke-width="0.7"/>
<path d="M929.0,645.0 C933.0,646.2 942.3,660.8 942.3,682.7 C942.3,697.3 940.3,705.8 939.2,705.8 L918.8,705.8 C917.7,705.8 915.7,697.3 915.7,682.7 C915.7,660.8 925.0,646.2 929.0,645.0 Z" fill="url(#gBulb)" stroke="#cbcbcb" stroke-width="1"/>
<path d="M923.0,663.2 C926.3,681.5 922.4,693.6 925.0,704.8 M934.3,663.2 C931.7,681.5 935.6,693.6 933.0,704.8" stroke="#d2d2d2" stroke-width="0.8" fill="none"/>
<rect x="918.8" y="705.8" width="20.5" height="63.2" fill="url(#gSleeve)"/>
<path d="M900.0,769.0 C907.1,780.0 917.8,780.5 929.6,780.5 C941.4,780.5 952.1,780.0 959.2,769.0 Z" fill="url(#gCup)"/>
<ellipse cx="929.6" cy="769.0" rx="29.6" ry="1.6" fill="#b39452"/>
<path d="M901.0,769.5 L958.2,769.5" stroke="#d9c48e" stroke-width="1"/>
<rect x="922.9" y="780.0" width="12.2" height="3.2" fill="url(#gBrass)"/>
<rect x="921.4" y="782.7" width="15.3" height="2.2" rx="1" fill="url(#gBrass)"/>
<ellipse cx="929.0" cy="790.1" rx="8.5" ry="4.5" fill="url(#gBrass)"/>
<rect x="921.7" y="794.4" width="14.6" height="2.7" rx="1" fill="url(#gBrass)"/>
<rect x="923.4" y="797.1" width="11.2" height="5.4" fill="url(#gBrass)"/>
<path d="M921.4,785.0 H936.6 M921.7,797.1 H936.3" stroke="#8c7034" stroke-width="0.7"/>
<path d="M1032.2,679.1 C1035.6,680.1 1043.4,692.7 1043.4,711.6 C1043.4,724.2 1041.7,731.5 1040.4,731.5 L1024.0,731.5 C1022.7,731.5 1021.0,724.2 1021.0,711.6 C1021.0,692.7 1028.8,680.1 1032.2,679.1 Z" fill="url(#gBulb)" stroke="#cbcbcb" stroke-width="1"/>
<path d="M1027.2,694.8 C1030.0,710.5 1026.6,721.0 1028.8,730.5 M1036.7,694.8 C1034.4,710.5 1037.8,721.0 1035.6,730.5" stroke="#d2d2d2" stroke-width="0.8" fill="none"/>
<rect x="1024.0" y="731.5" width="16.3" height="55.3" fill="url(#gSleeve)"/>
<path d="M1007.7,786.8 C1013.9,795.3 1023.2,795.8 1033.6,795.8 C1043.9,795.8 1053.2,795.3 1059.4,786.8 Z" fill="url(#gCup)"/>
<ellipse cx="1033.6" cy="786.8" rx="25.9" ry="1.6" fill="#b39452"/>
<path d="M1008.7,787.3 L1058.4,787.3" stroke="#d9c48e" stroke-width="1"/>
<rect x="1027.2" y="795.3" width="10.1" height="2.9" fill="url(#gBrass)"/>
<rect x="1025.9" y="797.8" width="12.6" height="2.1" rx="1" fill="url(#gBrass)"/>
<ellipse cx="1032.2" cy="804.5" rx="7.0" ry="4.1" fill="url(#gBrass)"/>
<rect x="1026.2" y="808.4" width="12.0" height="2.5" rx="1" fill="url(#gBrass)"/>
<rect x="1027.6" y="810.9" width="9.2" height="4.9" fill="url(#gBrass)"/>
<path d="M1025.9,799.8 H1038.5 M1026.2,810.9 H1038.2" stroke="#8c7034" stroke-width="0.7"/>
<path d="M682.2,831 C684,853 706,861.5 727.7,861.5 C750,861.5 771,853 773.2,831 Z" fill="url(#gBowl)"/>
<ellipse cx="727" cy="856" rx="7" ry="2" fill="#cdb68a" opacity="0.8"/>
<ellipse cx="727.7" cy="831" rx="45.5" ry="3" fill="#cdb883"/>
<path d="M682.5,832.5 C700,835.5 755,835.5 773,832.5" stroke="#6f5a33" stroke-width="1.4" fill="none"/>
<circle cx="727.4" cy="867" r="5.6" fill="url(#gBrass)"/>
<!-- DIMENSION LINES -->
<g stroke="#8a8a8a" stroke-width="1.5" fill="none">
  <path d="M683.3 104 V88 H778.3 V104"/>
  <path d="M749 159.5 H763 V603 H749"/>
  <path d="M1074 102.5 H1118 M1096 102.5 V372 M1096 466 V648 M1096 695 V789.5 M1096 843 V890 M1074 890 H1118 M1073 619 H1096 M1073 732 H1096"/>
  <path d="M397 912.3 V936 H1060 V912.3"/>
</g>
<g fill="#1f1f1f" font-size="37.5">
  <text x="683.5" y="69.5">5.11in</text>
  <text x="776" y="395">59in</text>
  <text x="957" y="410" font-size="36.8">17.72-76.77in</text>
  <text x="1068" y="686" font-size="37.2">13.38in</text>
  <text x="1069.5" y="830">8.26in</text>
  <text x="677.5" y="983.3" font-size="37">34.64in</text>
</g>
<text x="982" y="451" fill="#eba53e" font-size="38">Adjustable</text>
<g fill="#262626" font-weight="bold" font-size="36" stroke="#fff" stroke-width="0.5">
  <text x="38" y="1100">SUGGESTED: E12 BASE</text>
  <text x="75" y="1158.6" font-size="34.4">(Bulbs Not Included)</text>
</g>

<path d="M526.7,1070.7 C538.7,1074 544.7,1095 544.7,1112 C544.7,1130 538.7,1140 533.7,1147 L519.7,1147 C514.7,1140 508.70000000000005,1130 508.70000000000005,1112 C508.70000000000005,1095 514.7,1074 526.7,1070.7 Z" fill="#f8f8f8" stroke="#d4d4d4" stroke-width="1"/>
<rect x="516.9" y="1093" width="2.0" height="40" fill="#f1b443"/>
<rect x="519.9" y="1093" width="4.0" height="40" fill="#f1b443"/>
<rect x="528.5" y="1093" width="4.0" height="40" fill="#f1b443"/>
<rect x="533.5" y="1093" width="2.2" height="40" fill="#f1b443"/>
<path d="M517.2,1093 H536.2 M517.2,1133 H536.2" stroke="#555" stroke-width="1"/>
<path d="M525.7,1133 V1147 M528.2,1133 V1147" stroke="#aaa" stroke-width="1"/>
<rect x="518.0" y="1147" width="17.4" height="6" fill="url(#gSilver)"/>
<rect x="519.2" y="1153.0" width="15.0" height="18.0" fill="url(#gSilver)"/>
<path d="M519.2,1156.2 L534.2,1154.6" stroke="#6f6f6f" stroke-width="1.57" opacity="0.8"/>
<path d="M519.2,1160.7 L534.2,1159.1" stroke="#6f6f6f" stroke-width="1.57" opacity="0.8"/>
<path d="M519.2,1165.2 L534.2,1163.6" stroke="#6f6f6f" stroke-width="1.57" opacity="0.8"/>
<path d="M519.2,1169.7 L534.2,1168.1" stroke="#6f6f6f" stroke-width="1.57" opacity="0.8"/>
<path d="M521.5,1171.0 L532.0,1171.0 L529.7,1174.0 L523.7,1174.0 Z" fill="#222"/>
<path d="M614.5,1080 C630.5,1080 639.5,1090 639.5,1106 C639.5,1124 627.5,1136 624.0,1148 L605.0,1148 C601.5,1136 589.5,1124 589.5,1106 C589.5,1090 598.5,1080 614.5,1080 Z" fill="#f7f7f7" stroke="#cdcdcd" stroke-width="1"/>
<path d="M606.5,1081.5 C611.5,1079.5 617.5,1079.5 622.5,1081.5" stroke="#777" stroke-width="1.5" fill="none"/>
<rect x="608.5" y="1096" width="1.5" height="38" fill="#f0b440"/>
<rect x="619.5" y="1096" width="1.5" height="38" fill="#f0b440"/>
<path d="M612.5,1096 V1140 M616.5,1096 V1140" stroke="#b5b5b5" stroke-width="0.8"/>
<rect x="605.0" y="1148" width="19" height="7" fill="url(#gGold2)"/>
<rect x="607.0" y="1155.0" width="15.0" height="16.0" fill="url(#gGold2)"/>
<path d="M607.0,1157.8 L622.0,1156.4" stroke="#7a5c1c" stroke-width="1.40" opacity="0.8"/>
<path d="M607.0,1161.8 L622.0,1160.4" stroke="#7a5c1c" stroke-width="1.40" opacity="0.8"/>
<path d="M607.0,1165.8 L622.0,1164.4" stroke="#7a5c1c" stroke-width="1.40" opacity="0.8"/>
<path d="M607.0,1169.8 L622.0,1168.4" stroke="#7a5c1c" stroke-width="1.40" opacity="0.8"/>
<path d="M609.2,1171.0 L619.8,1171.0 L617.5,1174.0 L611.5,1174.0 Z" fill="#222"/>
<path d="M708.5,1063 C711,1064 712,1075 717,1085 C725,1098 728,1112 728,1125 C728,1140 721,1150 719,1154 L703,1154 C699,1148 693.5,1138 693.5,1122 C693.5,1102 703,1085 707,1072 C707.5,1068 707,1064 708.5,1063 Z" fill="#f4ecd6" stroke="#d8cba6" stroke-width="1"/>
<path d="M706,1105 L714,1115 L707,1125 L714,1135 L709,1145 M710,1100 V1150" stroke="#c7a868" stroke-width="0.8" fill="none"/>
<rect x="703" y="1153" width="16" height="6" fill="url(#gGold2)"/>
<rect x="704.0" y="1159.0" width="14.0" height="14.0" fill="url(#gGold2)"/>
<path d="M704.0,1161.5 L718.0,1160.2" stroke="#6d5219" stroke-width="1.22" opacity="0.8"/>
<path d="M704.0,1165.0 L718.0,1163.7" stroke="#6d5219" stroke-width="1.22" opacity="0.8"/>
<path d="M704.0,1168.5 L718.0,1167.2" stroke="#6d5219" stroke-width="1.22" opacity="0.8"/>
<path d="M704.0,1172.0 L718.0,1170.7" stroke="#6d5219" stroke-width="1.22" opacity="0.8"/>
<path d="M706.1,1173.0 L715.9,1173.0 L713.8,1176.0 L708.2,1176.0 Z" fill="#222"/>
<rect x="785.3" y="1071.7" width="31.4" height="76" rx="14" fill="#f7f7f7" stroke="#cfcfcf" stroke-width="1"/>
<path d="M791.0,1083 L796.0,1124" stroke="#f0a93c" stroke-width="2.2"/>
<path d="M796.0,1083 L798.5,1124" stroke="#f0a93c" stroke-width="2.2"/>
<path d="M804.0,1083 L802.5,1124" stroke="#f0a93c" stroke-width="2.2"/>
<path d="M809.0,1083 L805.0,1124" stroke="#f0a93c" stroke-width="2.2"/>
<path d="M791,1083 H811" stroke="#777" stroke-width="1"/>
<path d="M798,1124 H804 V1144 H798 Z" fill="#e0e0e0" stroke="#aaa" stroke-width="0.8"/>
<rect x="790" y="1144" width="22" height="8" fill="url(#gSilver)"/>
<rect x="793.5" y="1152.0" width="15.0" height="19.0" fill="url(#gSilver)"/>
<path d="M793.5,1155.3 L808.5,1153.7" stroke="#6f6f6f" stroke-width="1.66" opacity="0.8"/>
<path d="M793.5,1160.1 L808.5,1158.4" stroke="#6f6f6f" stroke-width="1.66" opacity="0.8"/>
<path d="M793.5,1164.8 L808.5,1163.2" stroke="#6f6f6f" stroke-width="1.66" opacity="0.8"/>
<path d="M793.5,1169.6 L808.5,1167.9" stroke="#6f6f6f" stroke-width="1.66" opacity="0.8"/>
<path d="M795.8,1171.0 L806.2,1171.0 L804.0,1174.0 L798.0,1174.0 Z" fill="#222"/>
<path d="M887.7,1079 C899.7,1079 906.7,1095 906.7,1115 C906.7,1132 901.7,1142 898.7,1146 L876.7,1146 C873.7,1142 868.7,1132 868.7,1115 C868.7,1095 875.7,1079 887.7,1079 Z" fill="#f3f3f3" stroke="#c9c9c9" stroke-width="1"/>
<path d="M882.7,1113 C884.7,1125 888.7,1133 887.7,1140 M888.7,1112 C890.7,1120 891.7,1130 889.7,1140" stroke="#8f8f8f" stroke-width="0.8" fill="none"/>
<rect x="877.0" y="1146.0" width="21.4" height="26.0" fill="url(#gSilver)"/>
<path d="M877.0,1149.6 L898.4,1147.8" stroke="#6f6f6f" stroke-width="1.82" opacity="0.8"/>
<path d="M877.0,1154.8 L898.4,1153.0" stroke="#6f6f6f" stroke-width="1.82" opacity="0.8"/>
<path d="M877.0,1160.0 L898.4,1158.2" stroke="#6f6f6f" stroke-width="1.82" opacity="0.8"/>
<path d="M877.0,1165.2 L898.4,1163.4" stroke="#6f6f6f" stroke-width="1.82" opacity="0.8"/>
<path d="M877.0,1170.4 L898.4,1168.6" stroke="#6f6f6f" stroke-width="1.82" opacity="0.8"/>
<path d="M880.2,1172.0 L895.2,1172.0 L892.0,1175.0 L883.4,1175.0 Z" fill="#222"/>
<rect x="960" y="1079" width="26" height="68" rx="11" fill="#f8f8f8" stroke="#bdbdbd" stroke-width="1"/>
<path d="M966,1095 L980,1133 M980,1095 L966,1133 M969,1095 L977,1133 M977,1095 L969,1133" stroke="#f0a93c" stroke-width="1.8"/>
<path d="M966,1095 H980" stroke="#777" stroke-width="1"/>
<rect x="970" y="1133" width="6" height="13" fill="#e0e0e0" stroke="#999" stroke-width="0.6"/>
<rect x="964.3" y="1147" width="17.4" height="8" fill="url(#gSilver)"/>
<rect x="967.0" y="1155.0" width="12.0" height="15.0" fill="url(#gSilver)"/>
<path d="M967.0,1157.6 L979.0,1156.3" stroke="#6f6f6f" stroke-width="1.31" opacity="0.8"/>
<path d="M967.0,1161.4 L979.0,1160.1" stroke="#6f6f6f" stroke-width="1.31" opacity="0.8"/>
<path d="M967.0,1165.1 L979.0,1163.8" stroke="#6f6f6f" stroke-width="1.31" opacity="0.8"/>
<path d="M967.0,1168.9 L979.0,1167.6" stroke="#6f6f6f" stroke-width="1.31" opacity="0.8"/>
<path d="M968.8,1170.0 L977.2,1170.0 L975.4,1173.0 L970.6,1173.0 Z" fill="#222"/>
<path d="M1061,1077.5 C1063,1075 1067,1075 1070,1077.5 C1080,1079 1088,1085 1088,1094 C1088,1110 1077,1135 1073,1150 L1057,1150 C1053,1135 1042,1110 1042,1094 C1042,1085 1051,1079 1061,1077.5 Z" fill="#f7f7f7" stroke="#a9a9a9" stroke-width="1"/>
<rect x="1055.7" y="1090" width="2.6" height="32" fill="#f2be4e"/>
<rect x="1059.7" y="1090" width="2.6" height="32" fill="#f2be4e"/>
<rect x="1063.7" y="1090" width="2.6" height="32" fill="#f2be4e"/>
<rect x="1067.7" y="1090" width="2.6" height="32" fill="#f2be4e"/>
<rect x="1071.7" y="1090" width="2.6" height="32" fill="#f2be4e"/>
<path d="M1063,1122 V1148 M1067,1122 V1148" stroke="#bbb" stroke-width="0.8"/>
<rect x="1057.3" y="1150" width="15.4" height="6" fill="url(#gSilver)"/>
<rect x="1059.0" y="1156.0" width="12.0" height="15.0" fill="url(#gSilver)"/>
<path d="M1059.0,1158.6 L1071.0,1157.3" stroke="#6f6f6f" stroke-width="1.31" opacity="0.8"/>
<path d="M1059.0,1162.4 L1071.0,1161.1" stroke="#6f6f6f" stroke-width="1.31" opacity="0.8"/>
<path d="M1059.0,1166.1 L1071.0,1164.8" stroke="#6f6f6f" stroke-width="1.31" opacity="0.8"/>
<path d="M1059.0,1169.9 L1071.0,1168.6" stroke="#6f6f6f" stroke-width="1.31" opacity="0.8"/>
<path d="M1060.8,1171.0 L1069.2,1171.0 L1067.4,1174.0 L1062.6,1174.0 Z" fill="#222"/>
<defs><clipPath id="rgbclip"><path d="M1154.6,1078.3 C1163.6,1080 1169.6,1100 1170.1,1121 L1139.1,1121 C1139.6,1100 1145.6,1080 1154.6,1078.3 Z"/></clipPath><linearGradient id="rgbA" x1="0" y1="0" x2="1" y2="0"><stop offset="0" stop-color="#f2707a"/><stop offset="0.45" stop-color="#f47cc0"/><stop offset="0.75" stop-color="#c78ff0"/><stop offset="1" stop-color="#a3a6f2"/></linearGradient><radialGradient id="rgbO"><stop offset="0" stop-color="#f9aa6c"/><stop offset="1" stop-color="#f9aa6c" stop-opacity="0"/></radialGradient><radialGradient id="rgbG"><stop offset="0" stop-color="#7ee6a2"/><stop offset="0.6" stop-color="#86e0c0" stop-opacity="0.8"/><stop offset="1" stop-color="#86e0c0" stop-opacity="0"/></radialGradient><radialGradient id="rgbW"><stop offset="0" stop-color="#ffe6f2" stop-opacity="0.9"/><stop offset="1" stop-color="#ffe6f2" stop-opacity="0"/></radialGradient><linearGradient id="rgbBody" x1="0" y1="0" x2="1" y2="0"><stop offset="0" stop-color="#dedede"/><stop offset="0.3" stop-color="#f4f4f4"/><stop offset="0.7" stop-color="#f6f6f6"/><stop offset="1" stop-color="#dadada"/></linearGradient></defs>
<g clip-path="url(#rgbclip)">
<rect x="1138" y="1077" width="34" height="45" fill="url(#rgbA)"/>
<ellipse cx="1148" cy="1117" rx="14" ry="10" fill="url(#rgbO)"/>
<ellipse cx="1165" cy="1116" rx="9" ry="8" fill="url(#rgbG)"/>
<ellipse cx="1154" cy="1104" rx="7" ry="12" fill="url(#rgbW)"/>
</g>
<path d="M1139.1,1121 L1170.1,1121 C1170.1,1138 1165.6,1150 1161.6,1153 L1147.6,1153 C1143.6,1150 1139.1,1138 1139.1,1121 Z" fill="url(#rgbBody)"/>
<rect x="1147.6" y="1153" width="14" height="6" fill="url(#gSilver)"/>
<rect x="1148.6" y="1159.0" width="12.0" height="13.0" fill="url(#gSilver)"/>
<path d="M1148.6,1161.3 L1160.6,1160.1" stroke="#6f6f6f" stroke-width="1.14" opacity="0.8"/>
<path d="M1148.6,1164.5 L1160.6,1163.4" stroke="#6f6f6f" stroke-width="1.14" opacity="0.8"/>
<path d="M1148.6,1167.8 L1160.6,1166.6" stroke="#6f6f6f" stroke-width="1.14" opacity="0.8"/>
<path d="M1148.6,1171.0 L1160.6,1169.9" stroke="#6f6f6f" stroke-width="1.14" opacity="0.8"/>
<path d="M1150.4,1172.0 L1158.8,1172.0 L1157.0,1175.0 L1152.2,1175.0 Z" fill="#222"/>
</svg>
</body></html>
